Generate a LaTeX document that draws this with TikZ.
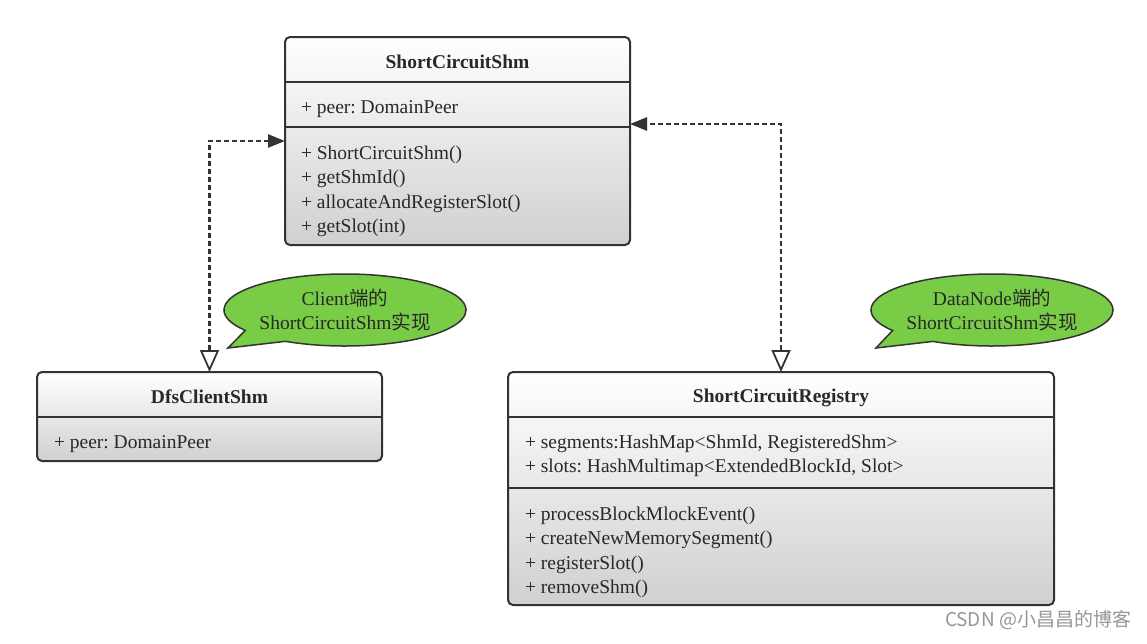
\documentclass[tikz,border=0pt]{standalone}
\usepackage{fontspec}
\setmainfont{Liberation Serif}
\newfontfamily\cjk{Noto Sans CJK SC}
\usetikzlibrary{arrows.meta}
\usetikzlibrary{shapes.callouts}
\usetikzlibrary{calc}
\definecolor{line1}{RGB}{51, 51, 51}
\definecolor{text1}{RGB}{40, 40, 40}
\definecolor{green1}{RGB}{121, 204, 70}
\definecolor{gray1}{RGB}{208, 208, 208}
\definecolor{gray2}{RGB}{150, 150, 150}
\frenchspacing
\begin{document}
\begin{tikzpicture}[x=1pt, y=-1pt, line width=2pt,
  cls/.style={draw=line1, rounded corners=5pt, top color=white, bottom color=gray1, inner sep=0pt, outer sep=0pt},
  title/.style={font=\bfseries\fontsize{19.5}{24}\selectfont, text=text1, anchor=base, inner sep=0pt},
  item/.style={font=\fontsize{19.5}{24}\selectfont, text=text1, anchor=base west, inner sep=0pt},
  dep/.style={draw=line1, line width=2.5pt, dash pattern=on 5pt off 3pt},
  bubble/.style={ellipse callout, draw=line1, fill=green1, line width=1.5pt, callout pointer arc=26,
    minimum width=236pt, minimum height=72pt, inner sep=0pt, align=center, text=text1,
    font=\fontsize{19.5}{24}\selectfont}]
  \useasboundingbox (0,0) rectangle (1147,643);
  % classes
  \node[cls, minimum width=345pt, minimum height=208pt] (shm) at (457.5,141) {};
  \node[cls, minimum width=345pt, minimum height=89pt] (dfs) at (209.5,416.5) {};
  \node[cls, minimum width=546pt, minimum height=233pt] (reg) at (781,488.5) {};
  \draw[line1] ($(shm.north west)+(0,45)$) -- ($(shm.north east)+(0,45)$);
  \draw[line1] ($(shm.north west)+(0,90)$) -- ($(shm.north east)+(0,90)$);
  \draw[line1] ($(dfs.north west)+(0,45)$) -- ($(dfs.north east)+(0,45)$);
  \draw[line1] ($(reg.north west)+(0,45)$) -- ($(reg.north east)+(0,45)$);
  \draw[line1] ($(reg.north west)+(0,116)$) -- ($(reg.north east)+(0,116)$);
  % texts
  \node[title] (shmT) at (457.5,68) {ShortCircuitShm};
  \node[item] (shmA1) at (300,113) {+ peer: DomainPeer};
  \foreach \txt [count=\i] in {+ ShortCircuitShm(), + getShmId(), + allocateAndRegisterSlot(), + getSlot(int)}
    \node[item] (shmM\i) at (300,{134.5+24.5*\i}) {\txt};
  \node[title] (dfsT) at (209.5,403) {DfsClientShm};
  \node[item] (dfsA1) at (53,448) {+ peer: DomainPeer};
  \node[title] (regT) at (781,402) {ShortCircuitRegistry};
  \node[item] (regA1) at (524,448) {+ segments:HashMap<ShmId, RegisteredShm>};
  \node[item] (regA2) at (524,472.5) {+ slots: HashMultimap<ExtendedBlockId, Slot>};
  \foreach \txt [count=\i] in {+ processBlockMlockEvent(), + createNewMemorySegment(), + registerSlot(), + removeShm()}
    \node[item] (regM\i) at (524,{495.5+24.5*\i}) {\txt};
  % connectors
  \draw[dep, {Triangle[open, length=22pt, width=19pt, line width=1.8pt]}-{Triangle[length=17pt, width=13pt]}]
    (dfs.north) |- (shm.west);
  \draw[dep, {Triangle[open, length=22pt, width=19pt, line width=1.8pt]}-{Triangle[length=17pt, width=13pt]}]
    (reg.north) |- ([yshift=17pt]shm.east);
  % notes
  \coordinate (tip1) at (228,348);
  \coordinate (tip2) at (876,348);
  \node[bubble, callout absolute pointer={(tip1)}] (note1) at (345,310) {Client{\cjk 端的}\\ShortCircuitShm{\cjk 实现}};
  \node[bubble, callout absolute pointer={(tip2)}] (note2) at (992,310) {DataNode{\cjk 端的}\\ShortCircuitShm{\cjk 实现}};
  \node[font=\cjk\fontsize{19}{22}\selectfont, text=gray2, anchor=base east, inner sep=0pt] (mark) at (1132,626) {CSDN @小昌昌的博客};
\end{tikzpicture}
\end{document}
